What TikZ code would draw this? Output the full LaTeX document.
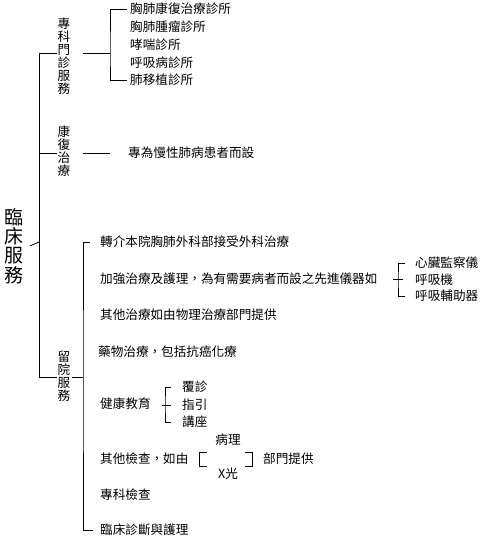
\documentclass[tikz,border=0pt]{standalone}
\usepackage{fontspec}
\setmainfont{Noto Sans CJK TC}
\usetikzlibrary{positioning,calc}

\begin{document}
\begin{tikzpicture}[x=1pt,y=-1pt]
            \tikzset{item/.style = {anchor=west, inner sep=0pt, font=\fontsize{12.6}{13}\selectfont}}
            \tikzset{vtext/.style = {inner sep=1pt, align=center, font=\fontsize{12.6}{13}\selectfont}}
            \tikzset{edge/.style = {-, line width=0.8pt}}
            \useasboundingbox (0,0) rectangle (489,541);

            % vertices
            \node[vtext, font=\fontsize{19}{19.3}\selectfont] (root) at (14,246) {臨\\床\\服\\務};
            \node[vtext] (zk) at (64,56) {專\\科\\門\\診\\服\\務};
            \node[vtext] (kf) at (64,151) {康\\復\\治\\療};
            \node[vtext] (ly) at (64,376) {留\\院\\服\\務};

            \foreach \t [count=\i] in {胸肺康復治療診所,胸肺腫瘤診所,哮喘診所,呼吸病診所,肺移植診所}
            {
              \node[item] (c\i) at (130,{9+17.75*(\i-1)}) {\t};
            }
            \node[item] (k1) at (128,153) {專為慢性肺病患者而設};

            \node[item] (d1) at (100,242) {轉介本院胸肺外科部接受外科治療};
            \node[item] (d2) at (100,279) {加強治療及護理，為有需要病者而設之先進儀器如};
            \node[item] (d3) at (100,315) {其他治療如由物理治療部門提供};
            \node[item] (d4) at (98,352) {藥物治療，包括抗癌化療};
            \node[item] (d5) at (100,404) {健康教育};
            \node[item] (d6) at (100,459) {其他檢查，如由};
            \node[item] (d7) at (100,495) {專科檢查};
            \node[item] (d8) at (100,530) {臨床診斷與護理};

            \node[item] (e1) at (415,263) {心臟監察儀};
            \node[item] (e2) at (415,279.5) {呼吸機};
            \node[item] (e3) at (415,296) {呼吸輔助器};

            \node[item] (f1) at (182,387) {覆診};
            \node[item] (f2) at (182,405) {指引};
            \node[item] (f3) at (182,422) {講座};

            \node[item, anchor=center] (g1) at (228,440) {病理};
            \node[item, anchor=center] (g2) at (228,474) {X光};
            \node[item] (g3) at (263,459) {部門提供};

            \coordinate (top) at (39,53);
            \coordinate (mid) at (39,153);
            \coordinate (bot) at (39,377);
            \coordinate (rt) at (39,242);
            \coordinate (s1) at (83,53);
            \coordinate (b1) at (110,53);
            \coordinate (s2) at (83,153);
            \coordinate (b2) at (110,153);
            \coordinate (b3) at (83,377);

            % edges
            \draw[edge] (top) -- (bot);
            \draw[edge] ([xshift=5pt]root.east) -- (rt);
            \draw[edge] (top) -- (top -| zk.west);
            \draw[edge] (mid) -- (mid -| kf.west);
            \draw[edge] (bot) -- (ly.west |- bot);
            \draw[edge] (s1) -- (b1);
            \draw[edge] (s2) -- (b2);
            \draw[edge] (ly.east |- b3) -- (b3);

            \draw[edge] ([xshift=-3pt]c1.west) -| (b1) |- ([xshift=-3pt]c5.west);
            \draw[edge] ([xshift=-10pt]d1.west) -| (b3) |- ([xshift=-7pt]d8.west);

            \draw[edge] ([xshift=-10pt]e1.west) -| ([xshift=-17pt]e2.west) |- ([xshift=-10pt]e3.west);
            \draw[edge] ([xshift=-22pt]e2.west) -- ([xshift=-12pt]e2.west);

            \draw[edge] ([xshift=-11pt]f1.west) -| ([xshift=-17pt]f2.west) |- ([xshift=-11pt]f3.west);
            \draw[edge] ([xshift=-20pt]f2.west) -- ([xshift=-11pt]f2.west);

            \draw[edge] ([shift={(18,-7)}]d6.east) -- ([shift={(11,-7)}]d6.east) -- ([shift={(11,7)}]d6.east) -- ([shift={(18,7)}]d6.east);
            \draw[edge] ([shift={(-18,-7)}]g3.west) -- ([shift={(-11,-7)}]g3.west) -- ([shift={(-11,7)}]g3.west) -- ([shift={(-18,7)}]g3.west);

          \end{tikzpicture}
\end{document}
